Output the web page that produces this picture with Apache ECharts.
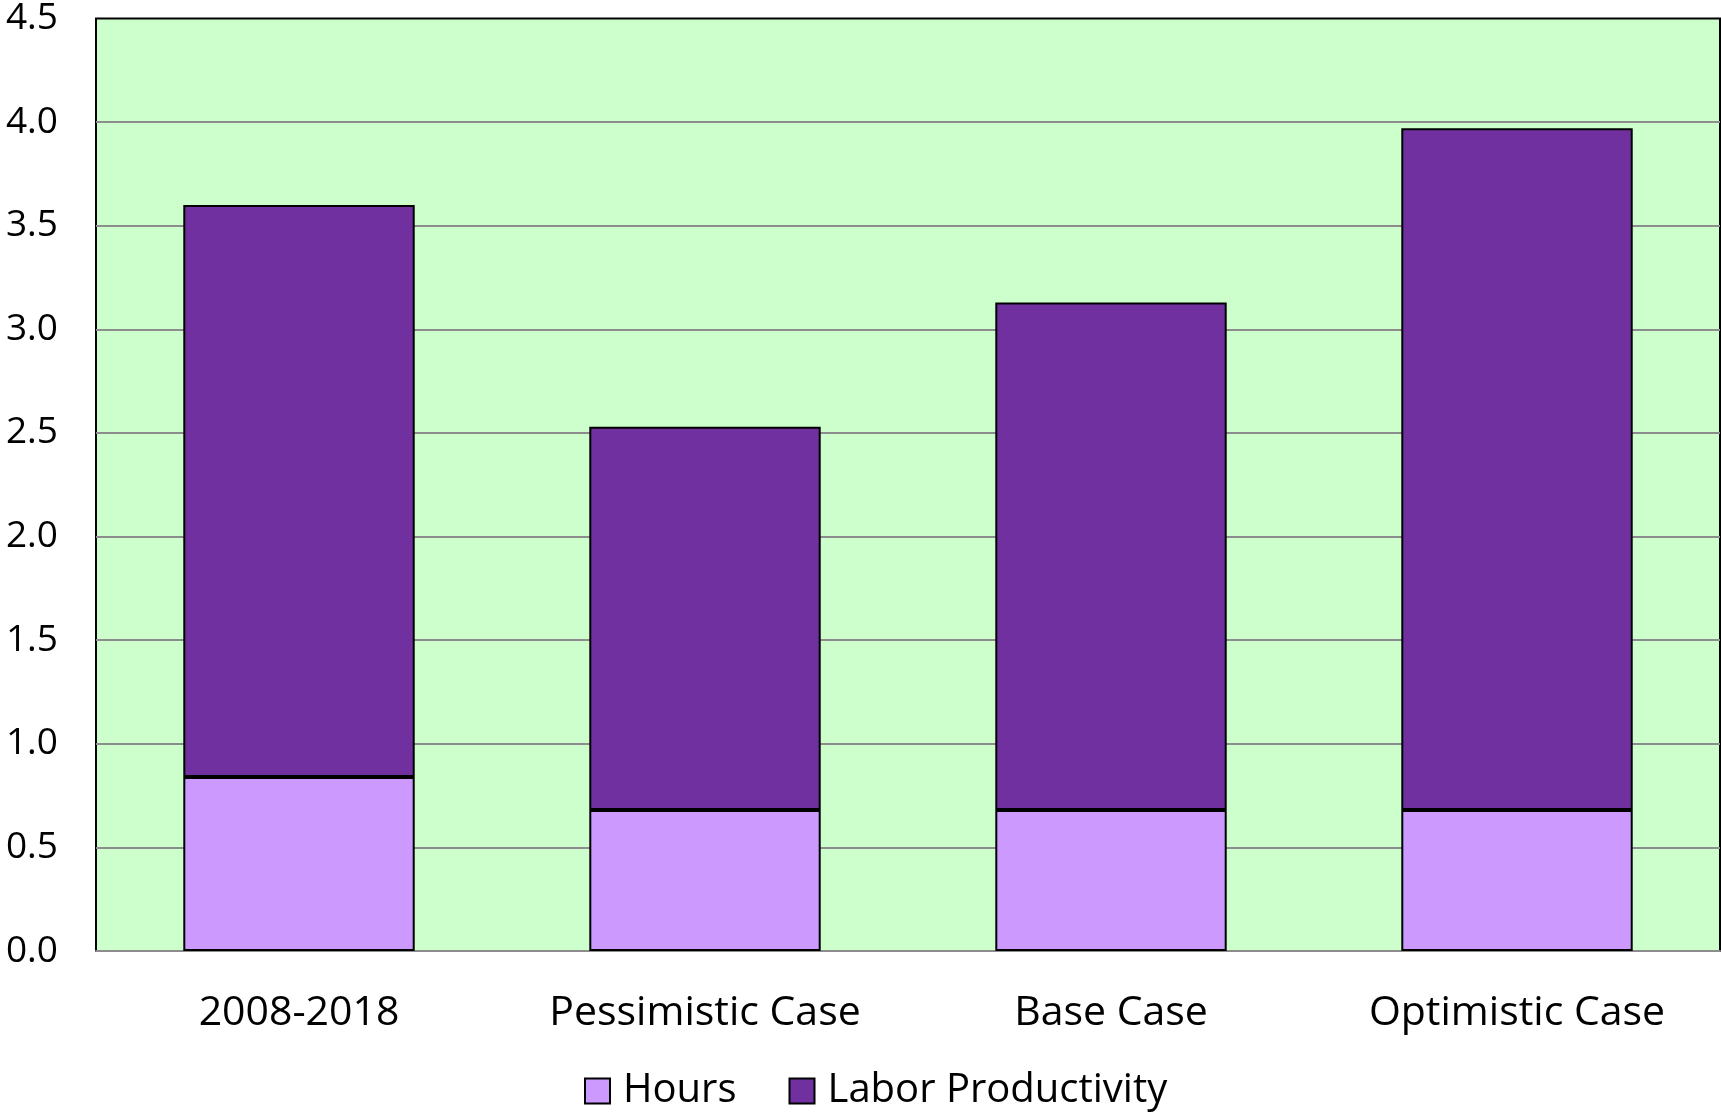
<!DOCTYPE html>
<html>
<head>
<meta charset="utf-8">
<script src="https://cdn.jsdelivr.net/npm/echarts@6/dist/echarts.min.js"></script>
<style>
  html, body { margin: 0; padding: 0; background: #fff; }
  #echar { width: 1721px; height: 1112px; }
</style>
</head>
<body>
<div id="echar"></div>
<script>
// categories and stacked values (percent)
const categories = ['2008-2018', 'Pessimistic Case', 'Base Case', 'Optimistic Case']
const hours = [0.84, 0.68, 0.68, 0.68]
const laborProductivity = [2.76, 1.85, 2.45, 3.29]
const yTicks = [0, 0.5, 1, 1.5, 2, 2.5, 3, 3.5, 4, 4.5]

const font = 'Open Sans'

const chart = echarts.init(document.getElementById('echar'))

const option = {
  animation: false,
  grid: {
    left: 96,
    right: 1,
    top: 15,
    bottom: 161,
    show: true,
    backgroundColor: '#ccffcc',
    borderColor: '#000',
    borderWidth: 2,
  },
  legend: {
    data: ['Hours', 'Labor Productivity'],
    bottom: -4,
    left: 579,
    icon: 'rect',
    itemWidth: 25,
    itemHeight: 25,
    itemGap: 52,
    itemStyle: { borderColor: '#000', borderWidth: 2 },
    textStyle: { fontFamily: font, fontSize: 40, color: '#000', padding: [0, 0, 0, 8] },
  },
  xAxis: {
    type: 'category',
    data: categories,
    axisTick: { show: false },
    axisLine: { lineStyle: { color: '#8c8c8c', width: 2 } },
    axisLabel: { fontFamily: font, fontSize: 41, color: '#000', margin: 42 },
  },
  yAxis: {
    type: 'value',
    min: yTicks[0],
    max: yTicks[yTicks.length - 1],
    interval: 0.5,
    axisLine: { show: false },
    axisTick: { show: false },
    splitLine: { showMaxLine: false, showMinLine: false, lineStyle: { color: '#8c8c8c', width: 2 } },
    axisLabel: {
      fontFamily: font,
      fontSize: 37,
      color: '#000',
      margin: 38,
      formatter: (v) => v.toFixed(1),
    },
  },
  series: [
    {
      name: 'Hours',
      type: 'bar',
      stack: 'total',
      barWidth: '57%',
      data: hours,
      itemStyle: { color: '#cc99ff', borderColor: '#000', borderWidth: 2 },
    },
    {
      name: 'Labor Productivity',
      type: 'bar',
      stack: 'total',
      barWidth: '57%',
      data: laborProductivity,
      itemStyle: { color: '#7030a0', borderColor: '#000', borderWidth: 2 },
    },
  ],
}

chart.setOption(option)
</script>
</body>
</html>
